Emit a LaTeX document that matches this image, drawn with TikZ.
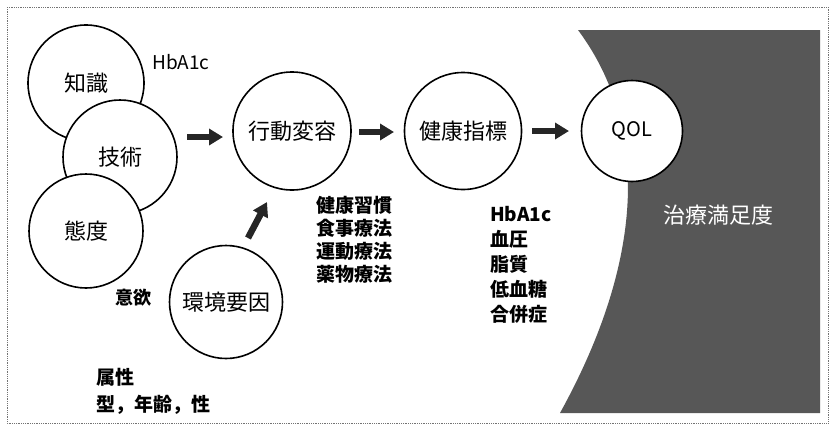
\documentclass[tikz,border=0pt]{standalone}
\usepackage{fontspec}
\setmainfont{Noto Sans CJK JP}
\usetikzlibrary{arrows.meta}
\begin{document}
\begin{tikzpicture}[x=1pt,y=-1pt,
  circ/.style={circle,draw=black,line width=1.6pt,fill=white,minimum size=#1,inner sep=0pt,font=\fontsize{22}{22}\selectfont},
  fat/.style={line width=6.5pt,-{Triangle[length=14pt,width=16pt]},draw=black!85},
  small/.style={font=\fontsize{18}{18}\selectfont\bfseries,inner sep=0pt},
  listtxt/.style={font=\fontsize{19}{23}\selectfont\bfseries,align=left,inner sep=0pt,anchor=north west}]
\useasboundingbox (0,0) rectangle (834,431);
\draw[black!55,line width=0.8pt,densely dotted] (7,7) rectangle (828,423);
% dark region
\fill[black!66] (578,30) .. controls (645,120) and (650,250) .. (560,413) -- (820,413) -- (820,30) -- cycle;
\node[font=\fontsize{22}{22}\selectfont,text=white] (manzoku) at (718,215) {治療満足度};
% circles
\node[circ=116pt] (chishiki) at (86,83) {知識};
\node[circ=114pt] (gijutsu) at (120,157) {技術};
\node[circ=114pt] (taido) at (86,231) {態度};
\node[circ=113pt] (kankyo) at (226,302) {環境要因};
\node[circ=118pt] (koudou) at (292,131) {行動変容};
\node[circ=117pt] (kenkou) at (463,131) {健康指標};
\node[circ=101pt,font=\fontsize{20}{20}\selectfont] (qol) at (632,131) {QOL};
% labels
\node[small,font=\fontsize{19}{19}\selectfont] (hba1) at (181,62) {HbA1c};
\node[small] (iyoku) at (133,298) {意欲};
\node[listtxt,font=\fontsize{19}{27}\selectfont\bfseries] (zokusei) at (96,368) {属性\\型，年齢，性};
\node[listtxt] (shukan) at (316,196) {健康習慣\\食事療法\\運動療法\\薬物療法};
\node[listtxt,font=\fontsize{19}{25}\selectfont\bfseries] (shihyo) at (490,206) {HbA1c\\血圧\\脂質\\低血糖\\合併症};
% arrows
\coordinate (a1s) at (187,137); \coordinate (a1e) at (223,137);
\coordinate (a2s) at (359,132); \coordinate (a2e) at (394,132);
\coordinate (a3s) at (532,131); \coordinate (a3e) at (569,131);
\coordinate (a4s) at (248,238); \coordinate (a4e) at (267,202);
\draw[fat] (a1s) -- (a1e);
\draw[fat] (a2s) -- (a2e);
\draw[fat] (a3s) -- (a3e);
\draw[fat] (a4s) -- (a4e);
\end{tikzpicture}
\end{document}
